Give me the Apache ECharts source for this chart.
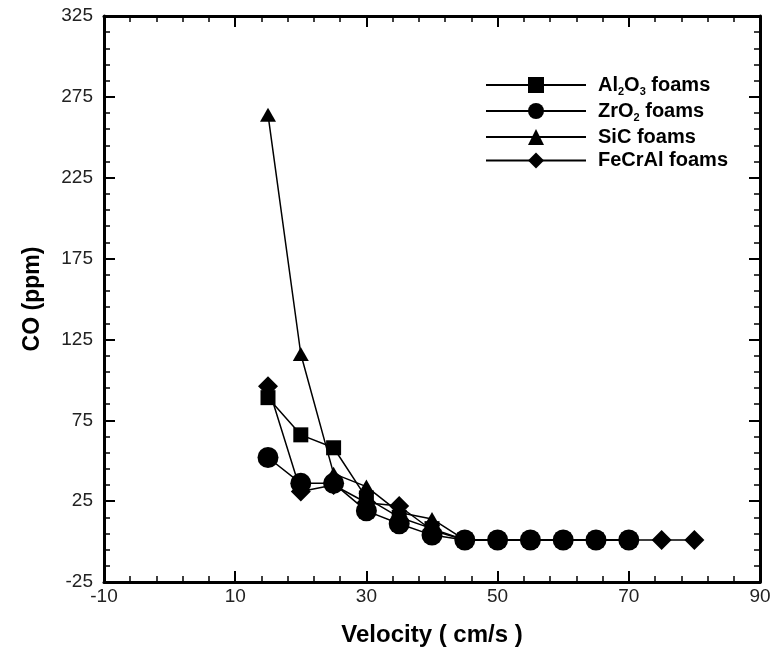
<!DOCTYPE html>
<html>
<head>
<meta charset="utf-8">
<script src="https://cdn.jsdelivr.net/npm/echarts@6/dist/echarts.min.js"></script>
<style>html,body{margin:0;padding:0;background:#fff}#c{width:774px;height:652px}</style>
</head>
<body>
<div id="c"></div>
<script>
// Velocity (cm/s)
var velocityMain = [15, 20, 25, 30, 35, 40, 45, 50, 55, 60, 65, 70];
var velocityFeCrAl = [15, 20, 25, 30, 35, 40, 45, 50, 55, 60, 65, 70, 75, 80];
// CO (ppm)
var al2o3 = [89, 66, 58, 27, 15, 8, 1, 1, 1, 1, 1, 1];
var zro2 = [52, 36, 36, 19, 11, 4, 1, 1, 1, 1, 1, 1];
var sic = [264, 116, 42, 34, 18, 14, 1, 1, 1, 1, 1, 1];
var fecral = [96, 31, 35, 24, 22, 7, 1, 1, 1, 1, 1, 1, 1, 1];
var seriesNames = ['Al2O3 foams', 'ZrO2 foams', 'SiC foams', 'FeCrAl foams'];
var xTicks = [-10, 10, 30, 50, 70, 90];
var yTicks = [-25, 25, 75, 125, 175, 225, 275, 325];

function pairs(xs, ys) { return ys.map(function (y, i) { return [xs[i], y]; }); }

var chart = echarts.init(document.getElementById('c'), null, {renderer: 'canvas'});
var FONT = 'Liberation Sans';
var axisLine = {show: true, onZero: false, lineStyle: {color: '#000', width: 3}};
var majorTick = {show: true, inside: true, length: 11, lineStyle: {color: '#000', width: 2}};
var minorTick = {show: true, splitNumber: 5, length: 6, lineStyle: {color: '#000', width: 1.5}};
var lineStyle = {color: '#000', width: 1.5};
var itemStyle = {color: '#000'};
var legendRich = {
  f: {fontFamily: FONT, fontWeight: 'bold', fontSize: 20, color: '#000', padding: [0, 0, 0, 7]},
  n: {fontFamily: FONT, fontWeight: 'bold', fontSize: 20, color: '#000'},
  s: {fontFamily: FONT, fontWeight: 'bold', fontSize: 11, color: '#000', verticalAlign: 'bottom', padding: [14, 0, 0, 0]}
};
function legendFmt(name) {
  if (name === 'Al2O3 foams') return '{f|Al}{s|2}{n|O}{s|3}{n| foams}';
  if (name === 'ZrO2 foams') return '{f|ZrO}{s|2}{n| foams}';
  return '{f|' + name + '}';
}
chart.setOption({
  animation: false,
  backgroundColor: '#fff',
  grid: {left: 104, right: 14, top: 16, bottom: 69, containLabel: false},
  legend: {
    data: seriesNames,
    orient: 'vertical',
    left: 480, top: 70,
    itemWidth: 100, itemHeight: 20, itemGap: 3.5,
    formatter: legendFmt,
    textStyle: {rich: legendRich, fontFamily: FONT, fontWeight: 'bold', fontSize: 20, color: '#000'}
  },
  xAxis: [{
    type: 'value', min: -10, max: 90, interval: 20,
    name: 'Velocity ( cm/s )', nameLocation: 'middle', nameGap: 41,
    nameTextStyle: {fontFamily: FONT, fontWeight: 'bold', fontSize: 24, color: '#000'},
    axisLine: axisLine, axisTick: majorTick, minorTick: minorTick,
    axisLabel: {margin: 5, fontFamily: FONT, fontSize: 19, color: '#222',
      formatter: function (v) { return xTicks.indexOf(v) >= 0 ? String(v) : ''; }},
    splitLine: {show: false}
  }, {
    type: 'value', position: 'top', min: -10, max: 90, interval: 20,
    axisLine: axisLine, axisTick: majorTick, minorTick: minorTick,
    axisLabel: {show: false}, splitLine: {show: false}
  }],
  yAxis: [{
    type: 'value', min: -25, max: 325, interval: 50,
    name: 'CO (ppm)', nameLocation: 'middle', nameGap: 60,
    nameTextStyle: {fontFamily: FONT, fontWeight: 'bold', fontSize: 23, color: '#000'},
    axisLine: axisLine, axisTick: majorTick, minorTick: minorTick,
    axisLabel: {margin: 11, fontFamily: FONT, fontSize: 19, color: '#222',
      formatter: function (v) { return yTicks.indexOf(v) >= 0 ? String(v) : ''; }},
    splitLine: {show: false}
  }, {
    type: 'value', position: 'right', min: -25, max: 325, interval: 50,
    axisLine: axisLine, axisTick: majorTick, minorTick: minorTick,
    axisLabel: {show: false}, splitLine: {show: false}
  }],
  series: [
    {name: 'SiC foams', type: 'line', data: pairs(velocityMain, sic), symbol: 'triangle', symbolSize: [16, 14],
      lineStyle: lineStyle, itemStyle: itemStyle, z: 2},
    {name: 'Al2O3 foams', type: 'line', data: pairs(velocityMain, al2o3), symbol: 'rect', symbolSize: 15,
      lineStyle: lineStyle, itemStyle: itemStyle, z: 3},
    {name: 'FeCrAl foams', type: 'line', data: pairs(velocityFeCrAl, fecral), symbol: 'diamond', symbolSize: [20, 20],
      lineStyle: lineStyle, itemStyle: itemStyle, z: 4},
    {name: 'ZrO2 foams', type: 'line', data: pairs(velocityMain, zro2), symbol: 'circle', symbolSize: 21,
      lineStyle: lineStyle, itemStyle: itemStyle, z: 5}
  ]
});
</script>
</body>
</html>
